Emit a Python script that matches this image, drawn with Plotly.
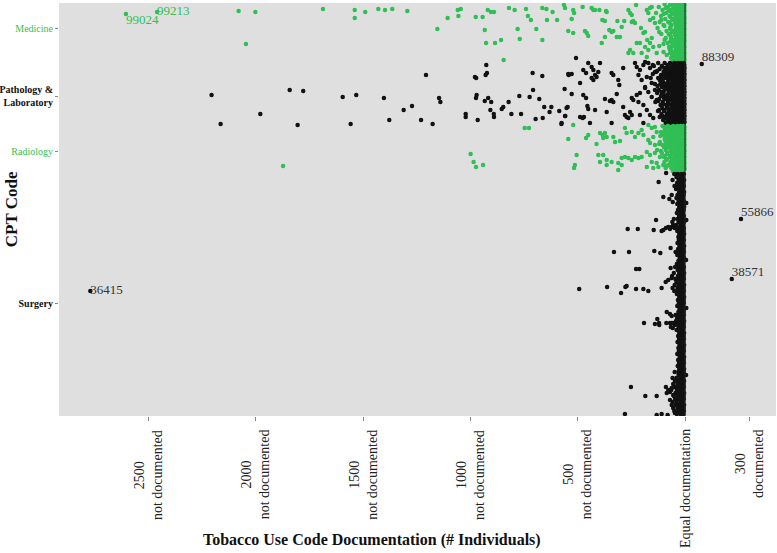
import plotly.graph_objects as go

# x = documented minus not-documented individuals, y = CPT code position (rank, 0 = bottom)

GREEN = "#2fbf55"
BLACK = "#111111"

medicine_x = [-2605, -2460, -2080, -2002, -2046, -1687, -1539, -1539, -1490, -1429, -1398,
              -1364, -1294, -1154, -1106, -1059, -1045, -1056, -975, -943, -919, -904, -890,
              -933, -927, -885, -857, -845, -820, -794, -780, -770, -741, -732, -718, -693,
              -665, -646, -665, -643, -617, -596, -559, -544, -564, -521, -517, -528, -466,
              -458, -451, -477, -435, -427, -385, -373, -365, -353, -342, -334, -388, -373,
              -315, -283, -295, -264, -256, -248, -228, -248, -241, -233, -256, -264, -241,
              -225, -210, -194, -186, -205, -178, -171, -163, -155, -163, -148, -140, -176,
              -163, -186, -171, -148, -155, -202, -178, -132, -521, -419, -399, -368, -318, -303]
medicine_y = [402, 404, 405, 404, 372, 407, 406, 398, 404, 407, 406,
              407, 405, 387, 398, 406, 407, 400, 399, 399, 406, 404, 404,
              386, 373, 373, 376, 356, 408, 406, 387, 377, 407, 400, 396, 387,
              408, 407, 376, 396, 404, 396, 408, 385, 411, 406, 403, 397, 385,
              383, 380, 409, 408, 406, 396, 395, 404, 386, 384, 385, 373, 379,
              395, 395, 389, 406, 403, 401, 411, 394, 395, 393, 366, 363, 363,
              373, 373, 383, 384, 388, 406, 403, 408, 409, 396, 398, 393, 376,
              373, 369, 366, 369, 378, 363, 359, 363, 383, 406, 406, 405, 379, 379]
medicine_band = {
    412: [-8, -20, -35, -60, -95], 411: [-2, -13, -26, -42, -70],
    409: [-5, -15, -28, -48, -80, -122], 408: [-3, -11, -24, -38, -56, -90],
    406: [-10, -22, -40, -66, -105], 405: [-2, -14, -28, -46, -76],
    403: [-6, -17, -31, -52, -88, -135], 402: [-3, -12, -24, -40, -62, -100],
    400: [-9, -24, -44, -72, -112], 399: [-2, -13, -27, -44, -68],
    397: [-4, -14, -30, -57, -92], 396: [-3, -11, -23, -38, -60, -110],
    394: [-11, -26, -46, -78, -118], 393: [-2, -14, -28, -45, -72],
    391: [-6, -19, -36, -62, -100], 390: [-3, -12, -25, -41, -66, -96],
    388: [-9, -23, -42, -70, -128], 387: [-2, -13, -27, -44, -68],
    385: [-5, -16, -33, -55, -86], 384: [-3, -11, -24, -39, -62, -120],
    382: [-12, -27, -48, -76, -110], 381: [-2, -14, -28, -45, -70],
    379: [-7, -20, -38, -64], 378: [-3, -12, -25, -42, -66, -90],
    376: [-4, -15, -30, -52, -95], 375: [-2, -13, -26, -44, -68],
    373: [-10, -25, -44, -80], 372: [-3, -11, -23, -38, -58, -100],
    370: [-6, -18, -36, -60, -120], 369: [-2, -14, -28, -46, -74],
    367: [-9, -22, -41, -72], 366: [-3, -12, -25, -41, -64],
    364: [-5, -16, -32, -55, -100], 363: [-2, -13, -27, -44, -70],
    361: [-11, -27, -50, -85], 360: [-3, -11, -24, -39, -60],
    358: [-7, -20, -38, -65], 357: [-2, -14, -28, -46],
    355: [-4, -14, -30, -58], 354: [-3, -12, -25, -40], 352: [-9, -24, -45],
}

pathology_x = [-2206, -2164, -1979, -1842, -1779, -1805, -1595, -1532, -1558, -1403, -1378,
               -1311, -1272, -1230, -1207, -1176, -1146, -1140, -1022, -1022, -979, -973,
               -974, -971, -966, -926, -923, -929, -933, -917, -903, -907, -891, -890, -854,
               -847, -822, -809, -772, -764, -724, -710, -708, -696, -679, -665, -663, -656,
               -631, -623, -586, -576, -561, -558, -547, -542, -508, -528, -544, -474, -461,
               -451, -435, -427, -419, -435, -427, -412, -404, -396, -489, -342, -334, -311,
               -306, -288, -233, -225, -210, -194, -186, -171, -163, -217, -202, -178, -155,
               -186, -140, -528, -474, -461, -552, -455, -451, -419, -559, -489, -477, -471,
               -575, -443, -373, -350, -342, -334, -318, -365, -342, -288, -280, -272, -256,
               -248, -264, -248, -241, -225, -210, -217, -194, -186, -171, -155, -140, -132,
               -178, -163, -148, -194, -210, 78]
pathology_y = [321, 292, 302, 326, 325, 291, 319, 321, 292, 318, 296,
               306, 310, 296, 341, 292, 318, 314, 302, 299, 339, 338,
               318, 321, 296, 351, 343, 341, 315, 318, 314, 306, 302, 299, 307,
               309, 314, 302, 320, 302, 319, 343, 326, 297, 317, 340, 298, 309,
               304, 309, 305, 292, 327, 300, 309, 341, 358, 342, 342, 346, 343,
               353, 349, 346, 341, 338, 336, 339, 344, 353, 333, 343, 341, 336,
               331, 348, 353, 349, 346, 351, 354, 353, 348, 341, 336, 339, 333,
               329, 344, 322, 321, 318, 308, 310, 307, 306, 300, 299, 298, 299,
               293, 293, 317, 315, 316, 314, 322, 304, 293, 309, 301, 299, 304,
               301, 298, 318, 316, 321, 323, 314, 311, 328, 324, 319, 326, 316,
               306, 301, 298, 293, 301, 352]
pathology_band = {
    353: [-6, -18, -33, -50, -70, -95, -125], 351: [-3, -13, -27, -42, -60, -82, -150],
    350: [-10, -24, -40, -58, -80, -108, -145], 348: [-2, -12, -25, -39, -55, -74, -97],
    347: [-5, -15, -29, -45, -64, -88, -118], 345: [-3, -14, -28, -43, -61, -85, -130],
    344: [-8, -21, -36, -54, -75, -100, -135], 342: [-2, -11, -23, -37, -53, -72, -95, -150],
    341: [-12, -26, -42, -60, -84, -112], 339: [-3, -13, -26, -41, -58, -80, -108],
    338: [-5, -17, -31, -48, -68, -92, -125, -160], 336: [-2, -12, -24, -38, -54, -75, -118],
    335: [-9, -22, -38, -56, -78, -104], 333: [-3, -14, -28, -43, -60, -82, -100],
    332: [-6, -16, -30, -46, -65, -88, -115, -140], 330: [-2, -11, -23, -36, -52, -70, -95, -128],
    329: [-11, -25, -41, -60, -82, -108], 327: [-3, -13, -27, -42, -58, -80],
    326: [-5, -18, -33, -50, -72, -96, -122], 324: [-2, -12, -25, -39, -56, -76, -110],
    323: [-8, -21, -37, -55, -76, -100, -130], 321: [-3, -14, -28, -43, -60, -82, -102],
    320: [-12, -27, -44, -63, -86, -112], 318: [-2, -11, -24, -38, -54, -74, -98],
    317: [-6, -17, -31, -48, -68, -92, -120], 315: [-3, -13, -26, -41, -59, -80, -125],
    314: [-9, -23, -39, -57, -79, -104, -138], 312: [-2, -12, -25, -39, -55, -76, -100],
    311: [-5, -15, -29, -45, -64, -87, -114], 309: [-3, -14, -28, -43, -60, -84],
    308: [-10, -24, -40, -58, -80, -106], 306: [-2, -11, -23, -37, -53, -72, -95, -120],
    305: [-7, -19, -34, -52, -73, -98, -126], 303: [-3, -13, -27, -42, -58, -78],
    302: [-11, -26, -43, -62, -85, -110], 300: [-2, -12, -25, -40, -56, -76, -104],
    299: [-6, -17, -31, -48, -68, -92, -118], 297: [-3, -14, -28, -43, -60, -84],
    296: [-9, -22, -38, -56, -78, -102], 294: [-2, -11, -24, -38, -54, -74],
    293: [-5, -16, -30, -46, -66, -90],
}

radiology_x = [-747, -727, -544, -999, -985, -974, -941, -1873, -521, -461, -451, -412, -505,
               -513, -517, -396, -384, -373, -365, -381, -334, -326, -303, -404, -381, -365,
               -396, -365, -342, -311, -295, -280, -264, -248, -233, -217, -202, -280, -272,
               -248, -233, -217, -202, -194, -171, -155, -140, -132, -148, -171, -163, -140,
               -117, -178, -163, -140, -117, -155, -132, -178, -148, -124, -101, -311, -295]
radiology_y = [288, 288, 277, 262, 254, 249, 251, 250, 291, 278, 281, 272, 261,
               251, 248, 283, 281, 283, 279, 278, 279, 274, 275, 261, 261, 256,
               254, 251, 254, 253, 258, 259, 258, 256, 259, 258, 259, 288, 283,
               284, 279, 283, 286, 281, 291, 288, 289, 284, 279, 276, 273, 271,
               274, 264, 261, 263, 259, 254, 253, 249, 248, 249, 251, 246, 251]
radiology_band = {
    290: [-7, -20, -36, -55, -80, -105], 289: [-2, -13, -27, -44, -66, -92],
    287: [-4, -14, -28, -45, -68, -95], 286: [-3, -11, -24, -40, -60, -84],
    284: [-10, -24, -40, -60, -85, -112], 283: [-2, -14, -28, -46, -70, -98],
    281: [-6, -17, -32, -50, -74, -100], 280: [-3, -12, -25, -41, -62, -88, -115],
    278: [-9, -22, -38, -58, -82], 277: [-2, -13, -27, -44, -68, -95],
    275: [-5, -15, -29, -46, -66, -92], 274: [-3, -11, -23, -38, -58, -80],
    272: [-11, -25, -42, -62, -88, -120], 271: [-2, -14, -28, -46, -72, -105],
    269: [-7, -19, -34, -52, -75, -98], 268: [-3, -12, -25, -41, -62, -86],
    266: [-4, -14, -28, -45, -65, -90, -130], 265: [-2, -13, -27, -44, -68, -112],
    263: [-9, -23, -39, -58, -82, -108], 262: [-3, -11, -24, -39, -60, -84],
    260: [-6, -17, -31, -49, -70, -95], 259: [-2, -14, -28, -46, -70, -98],
    257: [-10, -24, -41, -60, -84], 256: [-3, -12, -25, -41, -62, -88],
    254: [-5, -15, -29, -46, -68, -96], 253: [-2, -13, -27, -44, -66],
    251: [-8, -21, -37, -55, -78], 250: [-3, -11, -24, -39, -60, -84],
    248: [-4, -14, -27, -44, -64, -90], 247: [-2, -14, -28, -45],
    245: [-9, -22, -38, -57],
}

surgery_x = [-88, -123, -101, -73, -57, -135, -59, -267, -220, -146, -109, -101, -89, -78,
             -70, -62, -331, -261, -143, -115, -67, -228, -213, -67, -62, -78, -90, -493,
             -363, -278, -272, -298, -228, -194, -171, -109, -85, -70, -62, -129, -121,
             -120, -191, -140, -87, -70, -62, -55, -47, -57, -252, -185, -132, -89, -78,
             -85, -70, -62, -47, -55, -70, -62, -55, -47, -280, -132, -109, -81,
             6, 6, 5, 6, 5, 261, 218, -2771]
surgery_y = [243, 234, 219, 217, 214, 196, 194, 187, 187, 186, 185, 186, 188, 189,
             187, 189, 164, 164, 165, 163, 168, 147, 147, 148, 138, 136, 134, 127,
             129, 129, 130, 123, 127, 127, 125, 128, 104, 102, 100, 97, 93,
             91, 93, 92, 93, 93, 93, 93, 91, 88, 29, 20, 20, 29, 26,
             23, 24, 28, 29, 21, 16, 11, 8, 3, 2, 1, 2, 1,
             213, 196, 156, 108, 41, 197, 137, 125]
surgery_band = {
    242: [-5, -18, -34, -50], 239: [-8, -22, -40], 236: [-4, -15, -30, -58],
    233: [-7, -20, -37], 230: [-5, -16, -32, -49], 227: [-9, -24, -42],
    224: [-4, -14, -28], 221: [-6, -19, -35, -62], 218: [-8, -23, -40],
    215: [-5, -15, -30], 212: [-7, -20, -36], 209: [-4, -13, -27],
    206: [-6, -18, -33], 203: [-9, -22, -38], 200: [-5, -14, -28],
    197: [-7, -19, -34, -52], 194: [-4, -16, -30], 191: [-8, -21, -40, -55],
    188: [-5, -17, -32, -48], 185: [-6, -20, -36], 182: [-4, -13, -27],
    179: [-7, -18, -31], 176: [-5, -15, -29], 173: [-8, -21, -35],
    170: [-4, -14, -26], 167: [-6, -18, -32], 164: [-5, -16, -30, -44],
    161: [-7, -20, -36], 158: [-4, -13, -25], 155: [-6, -17, -31],
    152: [-8, -22, -38], 149: [-5, -15, -28, -46], 146: [-7, -19, -34],
    143: [-4, -14, -27, -52], 140: [-6, -18, -33, -60], 137: [-5, -16, -30, -45],
    134: [-8, -22, -40], 131: [-4, -15, -29, -48], 128: [-6, -19, -35, -58],
    125: [-5, -17, -32, -50], 122: [-7, -21, -38], 119: [-4, -14, -27],
    116: [-6, -18, -33], 113: [-5, -15, -29], 110: [-8, -20, -36],
    107: [-4, -13, -26], 104: [-6, -17, -31], 101: [-5, -16, -30, -44],
    98: [-7, -21, -37], 95: [-4, -14, -28, -42], 92: [-6, -19, -34],
    89: [-5, -15, -30, -66], 86: [-8, -22, -39], 83: [-4, -13, -27],
    80: [-6, -18, -32], 77: [-5, -15, -28], 74: [-7, -20, -35],
    71: [-4, -14, -26], 68: [-6, -17, -31], 65: [-5, -16, -29],
    62: [-8, -21, -36], 59: [-4, -13, -25], 56: [-6, -18, -32],
    53: [-5, -15, -28], 50: [-7, -19, -34], 47: [-4, -14, -27],
    44: [-6, -17, -31, -48], 41: [-5, -16, -30], 38: [-8, -22, -40, -58],
    35: [-4, -15, -29, -47], 32: [-6, -19, -35, -55], 29: [-5, -17, -32, -50],
    26: [-7, -21, -38, -64], 23: [-4, -14, -28, -44], 20: [-6, -18, -33, -52],
    17: [-5, -16, -30, -46], 14: [-8, -22, -40, -58], 11: [-4, -15, -29, -44],
    8: [-6, -19, -35], 5: [-5, -17, -32, -50], 2: [-7, -21, -38],
}

# labelled codes
label_code = ["99024", "99213", "88309", "55866", "38571", "36415"]
label_x = [-2605, -2460, 78, 261, 218, -2771]
label_y = [402, 404, 352, 197, 137, 125]
label_pos = ["bottom right", "middle right", "top right", "top right", "top right", "middle right"]
label_color = [GREEN, GREEN, "#333333", "#333333", "#333333", "#333333"]

group_names = ["Medicine", "Pathology &<br>Laboratory", "Radiology", "Surgery"]
group_tick_y = [388, 320, 265, 113]
group_color = [GREEN, BLACK, GREEN, BLACK]

x_tick_vals = [-2500, -2000, -1500, -1000, -500, 0, 300]
x_tick_text = ["2500<br>not documented", "2000<br>not documented", "1500<br>not documented",
               "1000<br>not documented", "500<br>not documented", "Equal documentation",
               "300<br>documented"]


def expand(xs, ys, band):
    xs, ys = list(xs), list(ys)
    for y, row in band.items():
        xs += row
        ys += [y] * len(row)
    return xs, ys


fig = go.Figure()

groups = [
    (medicine_x, medicine_y, medicine_band, GREEN),
    (pathology_x, pathology_y, pathology_band, BLACK),
    (radiology_x, radiology_y, radiology_band, GREEN),
    (surgery_x, surgery_y, surgery_band, BLACK),
]
for xs, ys, band, color in groups:
    gx, gy = expand(xs, ys, band)
    fig.add_trace(go.Scatter(
        x=gx, y=gy, mode="markers",
        marker=dict(color=color, size=4.5, line=dict(width=0)),
        showlegend=False, hoverinfo="skip",
    ))

for code, lx, ly, pos, col in zip(label_code, label_x, label_y, label_pos, label_color):
    fig.add_trace(go.Scatter(
        x=[lx], y=[ly], mode="text", text=[code], textposition=pos,
        textfont=dict(family="Liberation Serif", size=13, color=col),
        showlegend=False, hoverinfo="skip",
    ))

# equal documentation line
fig.add_vline(x=0, line_color="#222222", line_width=1)

tick_text = []
for name, col in zip(group_names, group_color):
    if col == BLACK:
        tick_text.append(f'<span style="color:{col}"><b>{name}</b></span>')
    else:
        tick_text.append(f'<span style="color:{col}">{name}</span>')

fig.update_yaxes(
    range=[0, 413], tickvals=group_tick_y, ticktext=tick_text,
    ticks="outside", ticklen=3, tickcolor="#888888", showgrid=False, zeroline=False,
    tickfont=dict(family="Liberation Serif", size=10), automargin=False,
)
fig.update_xaxes(
    range=[-2917, 424], tickvals=x_tick_vals, ticktext=[""] * len(x_tick_vals),
    ticks="outside", ticklen=4, tickcolor="#888888", showgrid=False, zeroline=False,
    automargin=False,
)

for v, t in zip(x_tick_vals, x_tick_text):
    fig.add_annotation(
        x=v, y=-0.028, xref="x", yref="paper", text=t, textangle=-90,
        showarrow=False, xanchor="center", yanchor="top", align="center",
        font=dict(family="Liberation Serif", size=14, color="#222222"),
    )

fig.add_annotation(
    x=0.437, y=-0.3, xref="paper", yref="paper",
    text="<b>Tobacco Use Code Documentation (# Individuals)</b>",
    showarrow=False, xanchor="center", yanchor="middle",
    font=dict(family="Liberation Serif", size=16, color="#111111"),
)
fig.add_annotation(
    x=-0.066, y=0.5, xref="paper", yref="paper", text="<b>CPT Code</b>", textangle=-90,
    showarrow=False, xanchor="center", yanchor="middle",
    font=dict(family="Liberation Serif", size=17, color="#111111"),
)

fig.update_layout(
    width=777, height=553,
    margin=dict(l=59, r=1, t=3, b=137),
    plot_bgcolor="#dfdfdf", paper_bgcolor="white",
)

fig.write_html("out.html", config={"displayModeBar": False},
               post_script="document.body.style.margin='0';")
